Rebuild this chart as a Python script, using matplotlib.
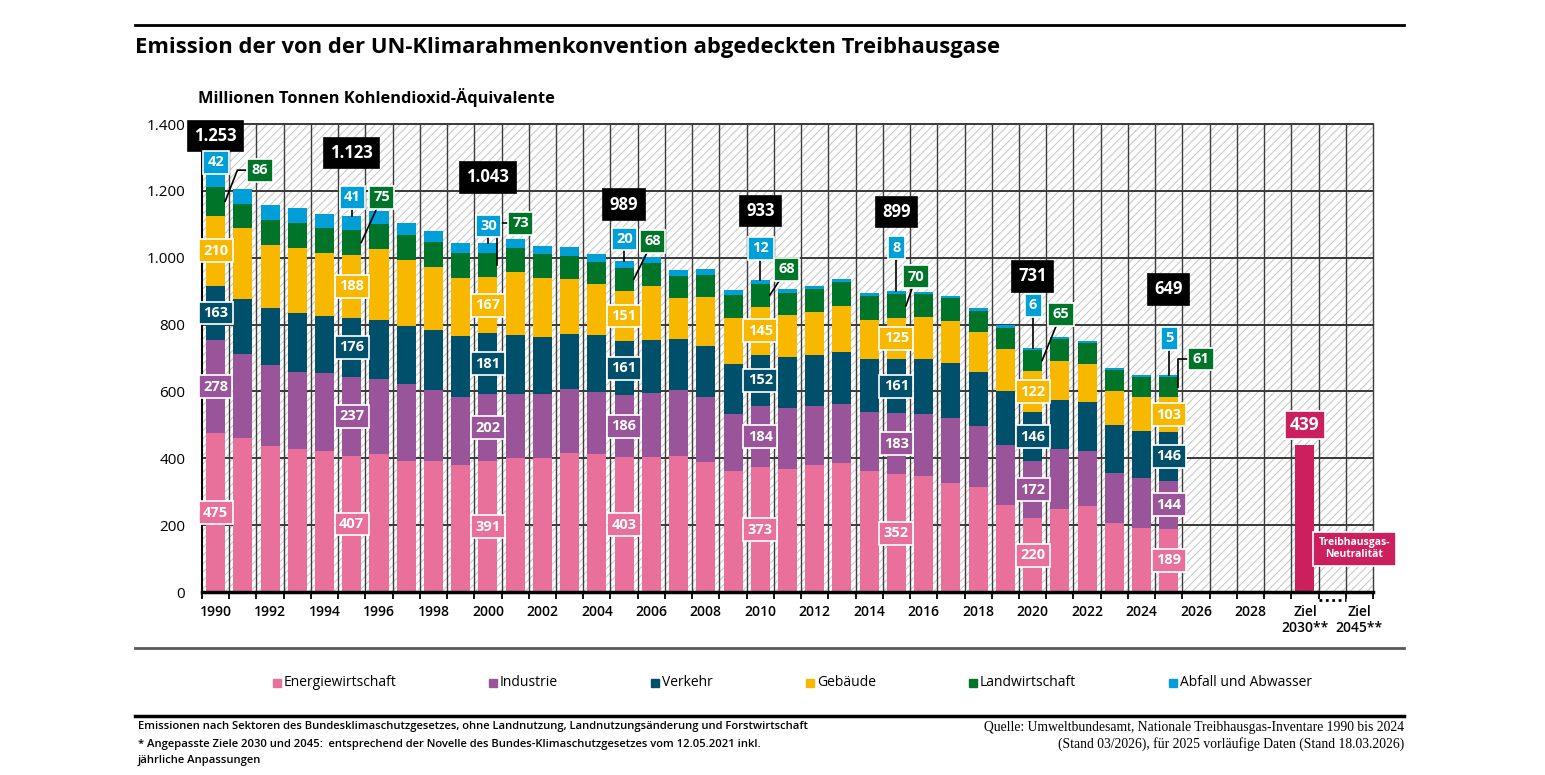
import matplotlib
matplotlib.use("Agg")
import matplotlib.pyplot as plt
import numpy as np
from matplotlib.patches import Rectangle
from matplotlib.lines import Line2D

plt.rcParams["font.family"] = ["Open Sans", "DejaVu Sans"]
plt.rcParams["hatch.linewidth"] = 0.7

# --- Daten (Mio. t CO2-Äquivalente) ---
years = list(range(1990, 2026))
energie = [475, 461, 436, 427, 421, 407, 413, 392, 392, 379, 391, 402, 402, 417, 413, 403, 403, 406,
           389, 362, 373, 368, 380, 386, 363, 352, 347, 327, 313, 259, 220, 248, 258, 205, 190, 189]
industrie = [278, 252, 242, 230, 234, 237, 225, 229, 211, 203, 202, 191, 189, 189, 186, 186, 191, 198,
             194, 170, 184, 181, 176, 175, 175, 183, 186, 193, 184, 180, 172, 180, 164, 150, 150, 144]
verkehr = [163, 164, 171, 177, 172, 176, 176, 176, 180, 185, 181, 176, 173, 166, 169, 161, 161, 153,
           152, 151, 152, 154, 153, 156, 159, 161, 164, 166, 161, 163, 146, 146, 147, 144, 143, 146]
gebaeude = [210, 211, 190, 196, 186, 188, 211, 197, 190, 173, 167, 187, 174, 164, 152, 151, 161, 122,
            147, 138, 145, 125, 129, 139, 118, 125, 125, 124, 120, 124, 122, 118, 113, 102, 101, 103]
landwirtschaft = [86, 74, 75, 75, 76, 75, 76, 74, 73, 73, 73, 74, 73, 70, 68, 68, 68, 67,
                  67, 66, 68, 67, 68, 70, 71, 70, 69, 68, 63, 65, 65, 65, 62, 63, 60, 61]
abfall = [42, 43, 44, 44, 42, 41, 40, 37, 34, 32, 30, 27, 25, 25, 23, 20, 18, 17,
          16, 15, 12, 12, 10, 10, 9, 8, 7, 8, 9, 7, 6, 6, 6, 5, 5, 5]

label_years = [1990, 1995, 2000, 2005, 2010, 2015, 2020, 2025]
label_totals = [1253, 1123, 1043, 989, 933, 899, 731, 649]
ziel_2030 = 439

sectors = ["Energiewirtschaft", "Industrie", "Verkehr", "Gebäude", "Landwirtschaft", "Abfall und Abwasser"]
colors = ["#E8709A", "#9A5499", "#004F6B", "#F9B800", "#00752A", "#009FD8"]
ziel_color = "#CC1F5E"

# --- Layout der Beschriftungen (Position relativ zum Balken) ---
total_y = [1364, 1313, 1240, 1159, 1140, 1137, 944, 905]
blue_y = [1285, 1181, 1095, 1056, 1028, 1030, 858, 759]
green_dx = [1.63, 1.10, 1.20, 1.05, 0.97, 0.72, 1.04, 1.19]
green_y = [1262, 1181, 1103, 1049, 965, 943, 831, 697]
green_elbow = [True, False, True, False, False, False, False, True]

W, H = 1545, 775
fig = plt.figure(figsize=(W / 100, H / 100), dpi=100)


def fx(px):
    return px / W


def fy(py):
    return 1 - py / H


ax = fig.add_axes([fx(202), fy(592), fx(1373) - fx(202), fy(124) - fy(592)])
ax.set_xlim(-0.5, 42.5)
ax.set_ylim(0, 1400)

# schraffierter Hintergrund
ax.add_patch(Rectangle((0, 0), 1, 1, transform=ax.transAxes, facecolor="white",
                       edgecolor="#c4c4c4", hatch="////", lw=0, zorder=0))

for yv in range(200, 1401, 200):
    ax.axhline(yv, color="#2a2a2a", lw=1.3, zorder=1, clip_on=False)
for b in np.arange(0.5, 43, 1):
    ax.axvline(b, color="#3c3c3c", lw=1.0, zorder=1, clip_on=False)

# gestapelte Balken
x = np.arange(len(years))
series = [energie, industrie, verkehr, gebaeude, landwirtschaft, abfall]
bottom = np.zeros(len(years))
bottoms = []
for vals, c in zip(series, colors):
    bottoms.append(bottom.copy())
    ax.bar(x, vals, bottom=bottom, width=0.7, color=c, zorder=2)
    bottom = bottom + np.array(vals)
totals = bottom

ax.bar(40, ziel_2030, width=0.7, color=ziel_color, zorder=2)


def box(xp, yp, text, fc, fs=10.5, pad=0.3, ec="white"):
    ax.text(xp, yp, text, ha="center", va="center", color="white", fontsize=fs,
            fontweight="bold", zorder=6,
            bbox=dict(boxstyle=f"square,pad={pad}", fc=fc, ec=ec, lw=1.2))


def fmt(v):
    return f"{v:,}".replace(",", ".")


for k, yr in enumerate(label_years):
    i = yr - 1990
    for s in range(4):
        val = series[s][i]
        box(i, bottoms[s][i] + val / 2, str(val), colors[s])
    # Gesamt
    box(i, total_y[k], fmt(label_totals[k]), "black", fs=12, pad=0.38, ec="black")
    # Abfall
    ax.plot([i, i], [blue_y[k], totals[i]], color="black", lw=1.2, zorder=5)
    box(i + 0.02, blue_y[k], str(abfall[i]), colors[5])
    # Landwirtschaft
    gx = i + green_dx[k]
    gc = bottoms[4][i] + landwirtschaft[i] / 2
    if green_elbow[k]:
        if yr == 1990:
            px_, py_ = [gx, i + 0.8, i + 0.35], [green_y[k], green_y[k], gc]
        else:
            px_, py_ = [gx, i + 0.35, i + 0.35], [green_y[k], green_y[k], gc]
    else:
        px_, py_ = [gx, i + 0.35], [green_y[k], gc]
    ax.plot(px_, py_, color="black", lw=1.2, zorder=5)
    box(gx, green_y[k], str(landwirtschaft[i]), colors[4])

box(40, 500, str(ziel_2030), ziel_color, fs=12.5, pad=0.3)
ax.text(41.82, 129, "Treibhausgas-\nNeutralität", ha="center", va="center", color="white",
        fontsize=7.5, fontweight="bold", zorder=6, linespacing=1.15,
        bbox=dict(boxstyle="square,pad=0.55", fc=ziel_color, ec="white", lw=1.2))

ax.plot([40.5, 41.5], [-25, -25], color="black", ls=(0, (1, 1.3)), lw=2, clip_on=False)

# Achsen
ax.set_yticks(range(0, 1401, 200))
ax.set_yticklabels([fmt(v) for v in range(0, 1401, 200)], fontsize=11)
ax.tick_params(axis="y", length=0, pad=12)

ax.set_xticks(np.arange(-0.5, 43, 1))
ax.set_xticklabels([])
ax.tick_params(axis="x", which="major", length=5, width=1.3, direction="out")
xlab_pos = list(range(0, 39, 2)) + [40, 42]
xlab_txt = [str(1990 + p) for p in range(0, 39, 2)] + ["Ziel\n2030**", "Ziel\n2045**"]
ax.set_xticks(xlab_pos, minor=True)
ax.set_xticklabels(xlab_txt, minor=True, fontsize=10, fontweight="semibold")
ax.tick_params(axis="x", which="minor", length=0, pad=9)

for s in ["top", "right"]:
    ax.spines[s].set_visible(False)
ax.spines["left"].set_linewidth(1.5)
ax.spines["bottom"].set_linewidth(2.5)
ax.spines["left"].set_zorder(3)
ax.spines["bottom"].set_zorder(3)

# Titel
fig.add_artist(Line2D([fx(135), fx(1404)], [fy(25), fy(25)], color="black", lw=2))
fig.text(fx(135), fy(48), "Emission der von der UN-Klimarahmenkonvention abgedeckten Treibhausgase",
         fontsize=15.8, fontweight="bold", va="center")
fig.text(fx(198), fy(98), "Millionen Tonnen Kohlendioxid-Äquivalente", fontsize=11.8,
         fontweight="bold", va="center")

# Legende
fig.add_artist(Line2D([fx(135), fx(1404)], [fy(648), fy(648)], color="#5a5a5a", lw=2))
leg_x = [273, 489, 651, 806, 969, 1169]
for lx, name, c in zip(leg_x, sectors, colors):
    fig.patches.append(Rectangle((fx(lx), fy(687)), 8 / W, 8 / H, transform=fig.transFigure,
                                 color=c))
    fig.text(fx(lx + 11), fy(683), name, fontsize=10, va="center")
fig.add_artist(Line2D([fx(135), fx(1404)], [fy(716), fy(716)], color="black", lw=2.5))

# Fußnoten
foot = ["Emissionen nach Sektoren des Bundesklimaschutzgesetzes, ohne Landnutzung, Landnutzungsänderung und Forstwirtschaft",
        "* Angepasste Ziele 2030 und 2045:  entsprechend der Novelle des Bundes-Klimaschutzgesetzes vom 12.05.2021 inkl.",
        "jährliche Anpassungen"]
for t, yy in zip(foot, [727, 744, 760]):
    fig.text(fx(138), fy(yy), t, fontsize=8.1, fontweight="semibold", va="center")
src = ["Quelle: Umweltbundesamt, Nationale Treibhausgas-Inventare 1990 bis 2024",
       "(Stand 03/2026), für 2025 vorläufige Daten (Stand 18.03.2026)"]
for t, yy in zip(src, [728, 744]):
    fig.text(fx(1404), fy(yy), t, fontsize=9.8, ha="right", va="center",
             family=["Liberation Serif", "DejaVu Serif"])

fig.savefig("out.png", dpi=100)
